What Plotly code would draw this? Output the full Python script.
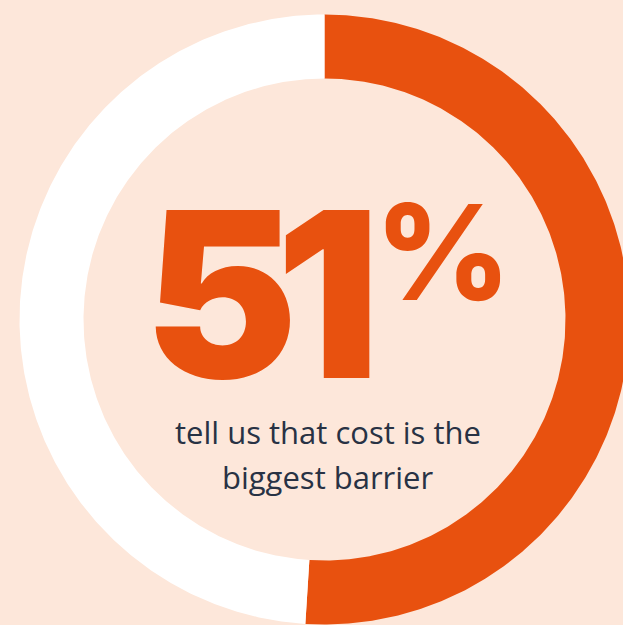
import math
import plotly.graph_objects as go

# Data
labels = ["Cost is the biggest barrier", "Other"]
values = [51, 49]
headline = "51"
headline_suffix = "%"
caption_lines = ["tell us that cost is the", "biggest barrier"]

# Styling / geometry
W, H = 623, 625
BG = "#FDE7DA"
ORANGE = "#E8510F"
WHITE = "#FFFFFF"
TEXT = "#283244"
CX, CY = 324.5, 319.5
R_OUT, R_IN = 305.0, 241.0
colors = [ORANGE, WHITE]

fig = go.Figure()

total = sum(values)
start = 0.0
for lab, v, col in zip(labels, values, colors):
    a0 = start / total * 2 * math.pi
    a1 = (start + v) / total * 2 * math.pi
    n = max(int(v * 8), 20)
    angs = [a0 + (a1 - a0) * i / n for i in range(n + 1)]
    xs = [CX + R_OUT * math.sin(a) for a in angs] + [CX + R_IN * math.sin(a) for a in reversed(angs)]
    ys = [CY - R_OUT * math.cos(a) for a in angs] + [CY - R_IN * math.cos(a) for a in reversed(angs)]
    xs.append(xs[0]); ys.append(ys[0])
    fig.add_trace(go.Scatter(x=xs, y=ys, mode="lines", fill="toself", fillcolor=col,
                             line=dict(width=0, color=col), name=lab, hoverinfo="name"))
    start += v

fig.add_annotation(x=257, y=294, xref="x", yref="y",
                   text='<span style="letter-spacing:-22px">%s</span>' % headline,
                   showarrow=False, xanchor="center", yanchor="middle", height=200,
                   font=dict(family="Inter", size=231, color=ORANGE, weight=900))
fig.add_annotation(x=373, y=252, xref="x", yref="y", text=headline_suffix, showarrow=False,
                   xanchor="left", yanchor="middle",
                   font=dict(family="Inter", size=132, color=ORANGE, weight=800))
for i, line in enumerate(caption_lines):
    fig.add_annotation(x=328, y=432 + 45 * i, xref="x", yref="y", text=line, showarrow=False,
                       xanchor="center", yanchor="middle",
                       font=dict(family="Open Sans", size=31, color=TEXT))

fig.update_layout(
    width=W, height=H, margin=dict(l=0, r=0, t=0, b=0),
    paper_bgcolor=BG, plot_bgcolor=BG, showlegend=False,
    xaxis=dict(range=[0, W], visible=False, fixedrange=True),
    yaxis=dict(range=[H, 0], visible=False, fixedrange=True),
)
fig.write_html("out.html")
